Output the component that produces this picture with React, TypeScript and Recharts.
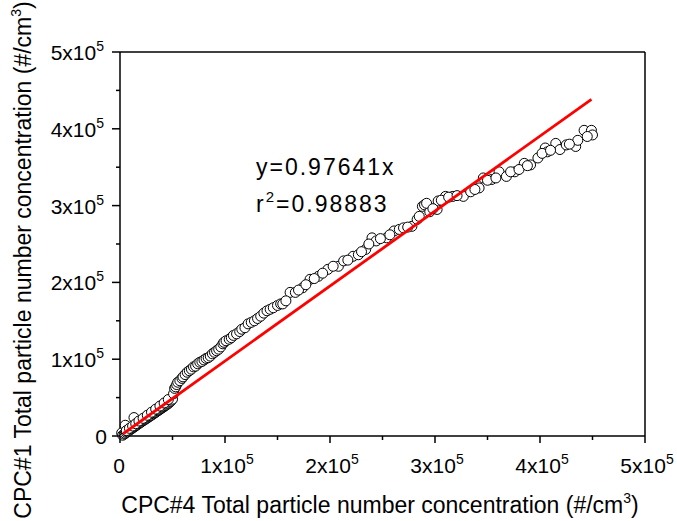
import React from 'react';
import { ScatterChart, Scatter, XAxis, YAxis, ReferenceLine } from 'recharts';

// values in units of 1000 #/cm3
const cpc4 = [
  1.6, 5, 13.3,
  2.5, 4, 5, 6, 7, 8, 9, 10, 11, 12, 13, 14, 15, 16, 17, 18, 19, 20, 21, 22, 23, 24, 25,
  26, 27, 28, 29, 30, 31, 32, 33, 34, 35, 36, 37, 38, 39, 40, 41, 42, 43, 44, 45, 46, 47, 48, 49, 50,
  6, 9, 12, 15, 18, 22, 26, 30, 34, 38, 42, 46,
  51, 52, 53, 54, 55, 57, 59, 60, 62, 64, 66, 68, 70, 72, 74, 76, 78, 80, 82, 84, 86, 88, 90, 92,
  94, 96, 98, 99, 101, 104, 106, 108, 111, 114, 116, 119, 122, 125, 128, 131, 134, 137, 140, 143,
  146, 150, 153,
  155, 162, 167, 174, 181, 189, 198, 208, 213, 222, 227, 234, 240, 244, 254, 261, 266, 278, 283,
  288, 290, 295, 302, 303, 310, 317, 327, 334, 342, 346, 354, 361, 368, 376, 385, 391, 398, 405,
  407, 415, 419, 425, 434, 436, 442, 449, 450,
  158, 170, 177, 185, 193, 203, 217, 230, 237, 248, 257, 270, 274, 285, 292, 298, 306, 313, 321,
  338, 350, 358, 372, 380, 388, 402, 410, 428, 445,
];
const cpc1 = [
  4, 14, 24,
  1.0, 2.5, 3.5, 4.8, 5.5, 6.9, 7.6, 8.9, 9.4, 10.6, 11.5, 12.3, 13.6, 14.2, 15.5, 16.1, 17.4, 18.0,
  19.3, 19.9, 21.0, 21.6, 22.9, 23.5, 24.6, 25.4, 26.5, 27.1, 28.4, 29.0, 30.3, 30.8, 32.0, 32.9,
  33.8, 34.6, 35.9, 36.5, 37.6, 38.4, 39.7, 40.3, 41.5, 42.4, 43.8, 44.9, 46.5, 48.0,
  7, 10, 13, 16, 19.5, 23, 27, 31, 35, 39, 43, 47.5,
  55, 62, 64, 67, 70, 72, 75, 77, 80, 83, 85, 87, 90, 91, 94, 96, 97, 99, 101, 102, 104, 107, 109, 111,
  113, 116, 120, 122, 124, 126, 128, 131, 133, 136, 139, 141, 146, 148, 150, 153, 156, 160, 163, 165,
  167, 170, 172,
  172, 187, 187, 193, 204, 208, 217, 221, 228, 234, 236, 243, 258, 254, 258, 267, 269, 273, 282,
  299, 301, 292, 295, 306, 312, 312, 312, 318, 323, 336, 334, 344, 338, 344, 355, 353, 362, 375,
  370, 381, 373, 379, 377, 385, 398, 398, 392,
  176, 190, 197, 205, 212, 221, 229, 240, 250, 257, 262, 271, 272, 286, 303, 296, 307, 311, 313,
  321, 333, 336, 344, 347, 352, 368, 372, 380, 390,
];

const fitSlope = 0.97641;
const fitRange = [3, 449];
const axisTicks = [0, 50, 100, 150, 200, 250, 300, 350, 400, 450, 500];
const tickLabels = ['0', '1', '2', '3', '4', '5'];

const points = cpc4.map((x, i) => ({ x, y: cpc1[i] }));
const fitLine = fitRange.map((x) => ({ x, y: fitSlope * x }));

const FONT = 'Liberation Sans, Arial, sans-serif';

const TickLabel = ({ v, x, y, anchor }: { v: number; x: number; y: number; anchor: string }) => {
  const n = v / 100;
  if (n === 0) {
    return (
      <text x={x} y={y} textAnchor={anchor} fontSize={21} fontFamily={FONT} fill="#000">0</text>
    );
  }
  return (
    <text x={x} y={y} textAnchor={anchor} fontSize={21} fontFamily={FONT} fill="#000">
      {tickLabels[n]}x10
      <tspan fontSize={14} dy={-9}>5</tspan>
    </text>
  );
};

const XTick = (props: any) => {
  const { x, y, payload } = props;
  const v = payload.value;
  const major = v % 100 === 0;
  return (
    <g>
      <line x1={x} x2={x} y1={y} y2={y + (major ? 7 : 4)} stroke="#000" strokeWidth={1.5} />
      {major && <TickLabel v={v} x={x + (v === 0 ? -1 : 2)} y={y + 37} anchor="middle" />}
    </g>
  );
};

const YTick = (props: any) => {
  const { x, y, payload } = props;
  const v = payload.value;
  const major = v % 100 === 0;
  return (
    <g>
      <line x1={x} x2={x - (major ? 8 : 4)} y1={y} y2={y} stroke="#000" strokeWidth={1.5} />
      {major && <TickLabel v={v} x={v === 0 ? 107 : 104} y={y + 8} anchor="end" />}
    </g>
  );
};

const Circle = (props: any) => (
  <circle cx={props.cx} cy={props.cy} r={5} fill="#fff" stroke="#000" strokeWidth={1} />
);

export default function App() {
  return (
    <div style={{ position: 'absolute', left: 0, top: 0, width: 677, height: 521, background: '#fff' }}>
      <ScatterChart width={677} height={521} margin={{ top: 52, right: 32, bottom: 0, left: 0 }}>
        <XAxis
          dataKey="x"
          type="number"
          domain={[0, 500]}
          ticks={axisTicks}
          interval={0}
          height={85}
          tickSize={0}
          tickMargin={0}
          tickLine={false}
          tick={<XTick />}
          axisLine={{ stroke: '#000', strokeWidth: 1.5 }}
        />
        <YAxis
          dataKey="y"
          type="number"
          domain={[0, 500]}
          ticks={axisTicks}
          interval={0}
          width={120}
          tickSize={0}
          tickMargin={0}
          tickLine={false}
          tick={<YTick />}
          axisLine={{ stroke: '#000', strokeWidth: 1.5 }}
        />
        <ReferenceLine y={500} stroke="#000" strokeWidth={1.5} />
        <ReferenceLine x={500} stroke="#000" strokeWidth={1.5} />
        <Scatter data={points} shape={<Circle />} isAnimationActive={false} />
        <Scatter
          data={fitLine}
          line={{ stroke: '#ff0000', strokeWidth: 2.8 }}
          shape={() => <g />}
          isAnimationActive={false}
        />
      </ScatterChart>
      <svg width={677} height={521} style={{ position: 'absolute', left: 0, top: 0, pointerEvents: 'none' }}>
        <text x={256} y={175} fontSize={23} letterSpacing={2} fontFamily={FONT} fill="#000">y=0.97641x</text>
        <text x={256} y={212} fontSize={23} letterSpacing={2} fontFamily={FONT} fill="#000">
          r<tspan fontSize={15} dy={-10}>2</tspan><tspan dy={10}>=0.98883</tspan>
        </text>
        <text x={380} y={513} textAnchor="middle" fontSize={23} fontFamily={FONT} fill="#000">
          CPC#4 Total particle number concentration (#/cm<tspan fontSize={14} dy={-10}>3</tspan><tspan dy={10}>)</tspan>
        </text>
        <text
          x={31}
          y={260}
          textAnchor="middle"
          transform="rotate(-90, 31, 260)"
          fontSize={23}
          fontFamily={FONT}
          fill="#000"
        >
          CPC#1 Total particle number concentration (#/cm<tspan fontSize={14} dy={-10}>3</tspan><tspan dy={10}>)</tspan>
        </text>
      </svg>
    </div>
  );
}
